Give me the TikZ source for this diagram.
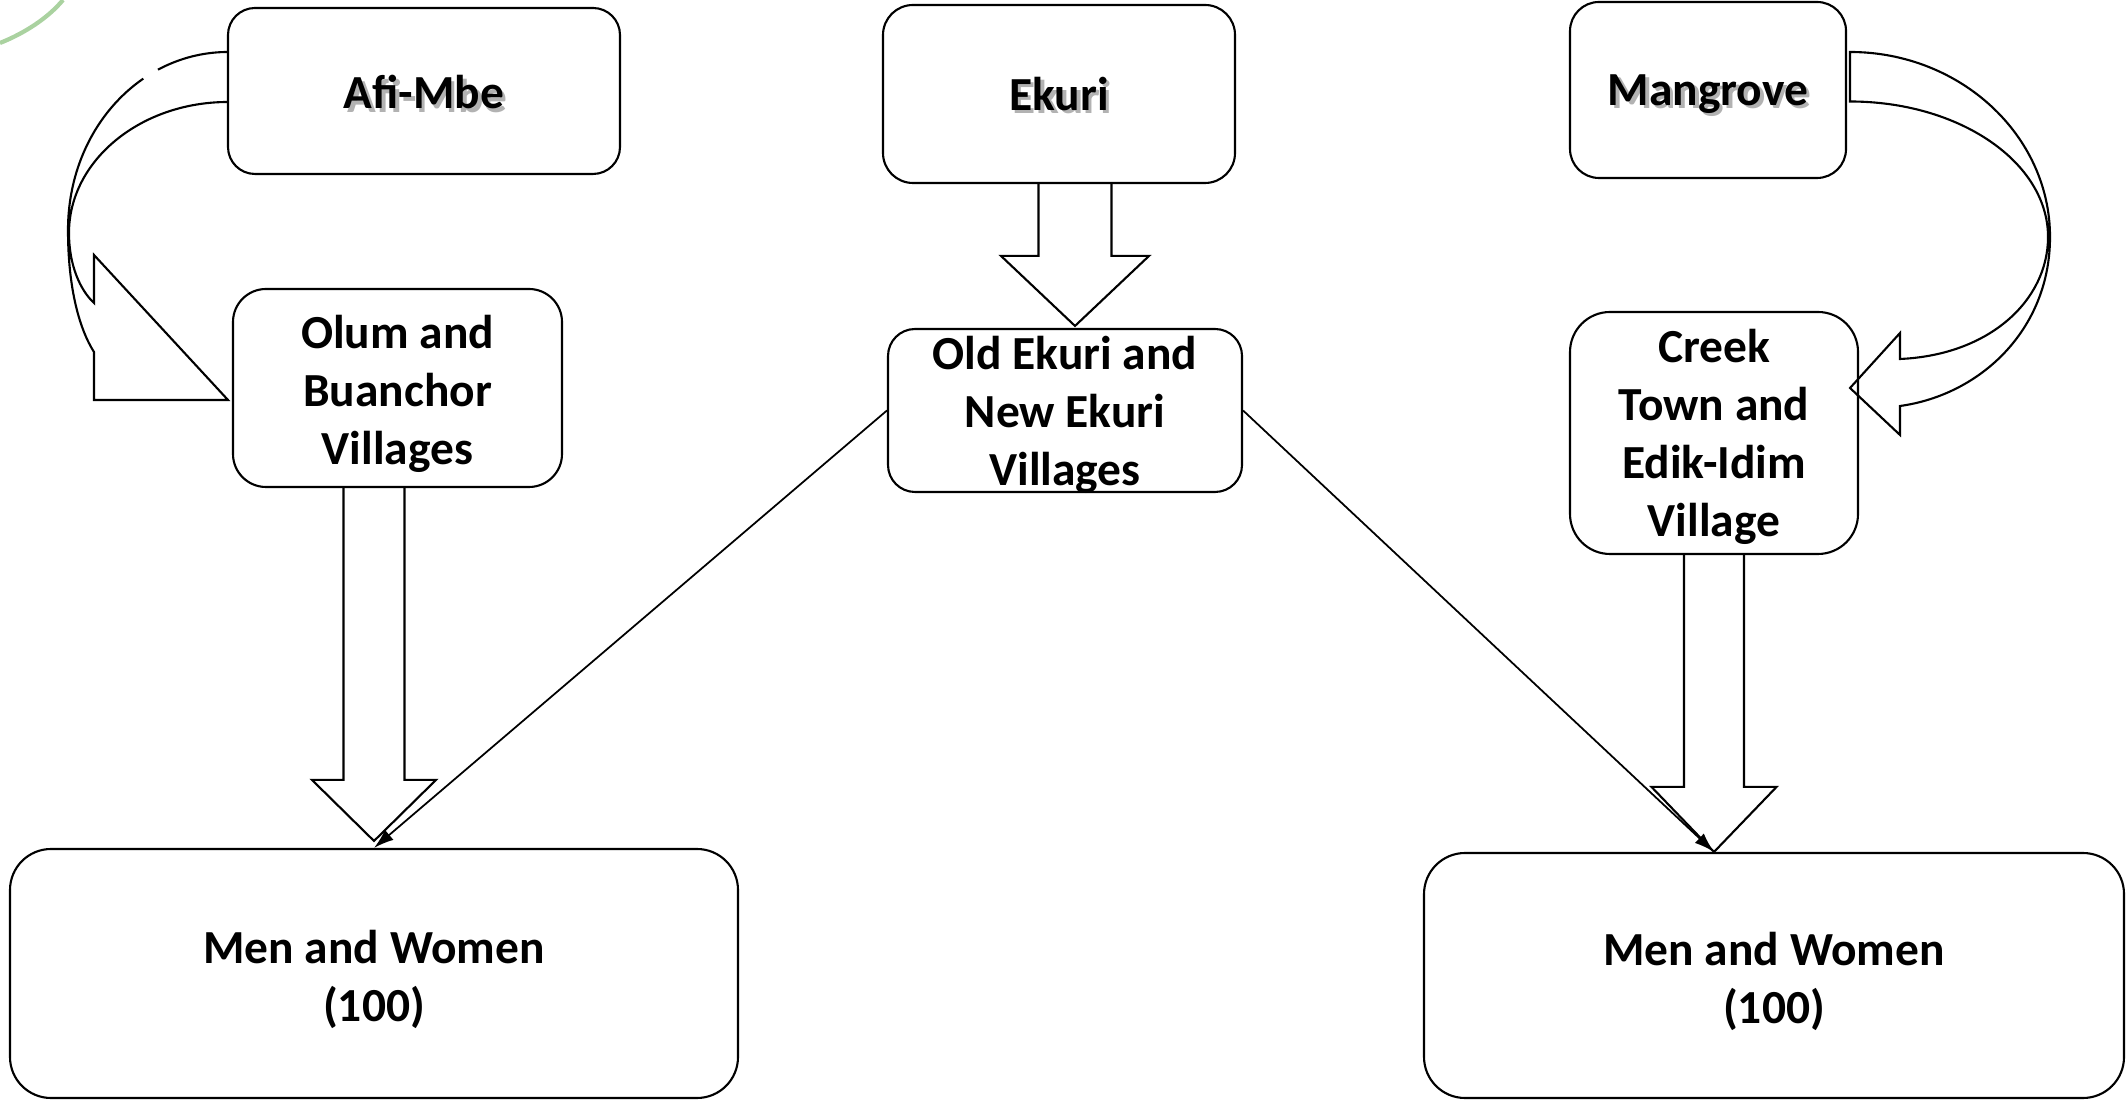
\documentclass[tikz,border=0pt]{standalone}
\usepackage{fontspec}
\setmainfont{Carlito}
\usetikzlibrary{calc,arrows.meta}

\definecolor{logogreen}{RGB}{170,210,160}

% grey drop shadow behind a label
\newcommand{\shadowed}[1]{%
  \makebox[0pt][l]{\kern0.35mm\raisebox{-0.35mm}{\color{black!30}#1}}#1}

% hollow block arrow pointing down: start, tip, shaft half, head half, head length
\newcommand{\blockdown}[5]{%
  \draw[block] ($(#1)+(-#3,0)$) -- ($(#2)+(-#3,-#5)$) -- ($(#2)+(-#4,-#5)$)
    -- (#2) -- ($(#2)+(#4,-#5)$) -- ($(#2)+(#3,-#5)$) -- ($(#1)+(#3,0)$);}

\begin{document}
\begin{tikzpicture}[
  x = 0.1mm, y = -0.1mm,
  box/.style   = {draw, line width=0.6pt, inner sep=0pt},
  txt/.style   = {inner sep=0pt, align=center,
                  font=\fontsize{13.5}{16.5}\selectfont\bfseries},
  block/.style = {draw, line width=0.6pt, line join=miter},
  link/.style  = {draw, line width=0.5pt, -{Latex[length=2mm, width=1.3mm]}},
]

\useasboundingbox (0,0) rectangle (2126,1103);

% logo fragment in the corner
\draw[logogreen, line width=1.2pt] (0,43) .. controls (25,33) and (48,18) .. (63,0);

% top row
\node[box, minimum width=39.2mm, minimum height=16.6mm, rounded corners=2.7mm]
  (afimbe) at (424,91) {};
\node[box, minimum width=35.2mm, minimum height=17.8mm, rounded corners=3mm]
  (ekuri) at (1059,94) {};
\node[box, minimum width=27.6mm, minimum height=17.6mm, rounded corners=2.9mm]
  (mangrove) at (1708,90) {};

% villages
\node[box, minimum width=32.9mm, minimum height=19.8mm, rounded corners=3.3mm]
  (olum) at (397.5,388) {};
\node[box, minimum width=35.4mm, minimum height=16.3mm, rounded corners=2.7mm]
  (oldekuri) at (1065,410.5) {};
\node[box, minimum width=28.8mm, minimum height=24.2mm, rounded corners=4mm]
  (creek) at (1714,433) {};

% respondents
\node[box, minimum width=72.8mm, minimum height=24.9mm, rounded corners=4.1mm]
  (menL) at (374,973.5) {};
\node[box, minimum width=70mm, minimum height=24.5mm, rounded corners=4.1mm]
  (menR) at (1774,975.5) {};

% labels, set a little below the box centres
\foreach \n/\dy/\label in {%
    afimbe/3/{\shadowed{Afi-Mbe}},
    ekuri/1.5/{\shadowed{Ekuri}},
    mangrove/5.5/{\shadowed{Mangrove}},
    olum/5.5/{Olum and\\Buanchor\\Villages},
    oldekuri/4/{Old Ekuri and\\New Ekuri\\Villages},
    creek/4/{Creek\\Town and\\Edik-Idim\\Village},
    menL/6/{Men and Women\\(100)},
    menR/6/{Men and Women\\(100)}%
  }{%
    \node[txt] (\n-txt) at ($(\n.center)+(0,\dy)$) {\label};
  }

% straight block arrows
\coordinate (ekuri-tip) at ($(oldekuri.north)+(10,-2)$);
\coordinate (olum-tip)  at ($(menL.north)+(0,-7)$);
\coordinate (creek-tip) at (creek.south |- menR.north);
\blockdown{ekuri.south -| ekuri-tip}{ekuri-tip}{36.5}{74}{70}
\blockdown{olum.south -| olum-tip}{olum-tip}{30.5}{62}{61}
\blockdown{creek.south}{creek-tip}{30}{62.5}{65}

% curved block arrows
\draw[block] (228,102) .. controls (140,102) and (69,161) .. (69,233)
  .. controls (69,265) and (80,290) .. (94,303) -- (94,255) -- (228,400)
  -- (94,400) -- (94,352) .. controls (80,330) and (68,290) .. (68,230)
  .. controls (68,130) and (140,52) .. (228,52);
\draw[white, line width=2pt] (157,68.5) -- (143,78); % small break in the outer edge
\draw[block] (1850,52) -- (1850,101.5) .. controls (1959,101.5) and (2048,162) .. (2048,237)
  .. controls (2048,300) and (1990,355) .. (1900,359) -- (1900,333) -- (1850,388)
  -- (1900,435) -- (1900,406) .. controls (1980,395) and (2050,330) .. (2050,237)
  .. controls (2050,135) and (1960,52) .. cycle;

% thin connectors
\draw[link] (oldekuri.west) -- (menL.north);
\draw[link] (oldekuri.east) -- (creek-tip);

\end{tikzpicture}
\end{document}
